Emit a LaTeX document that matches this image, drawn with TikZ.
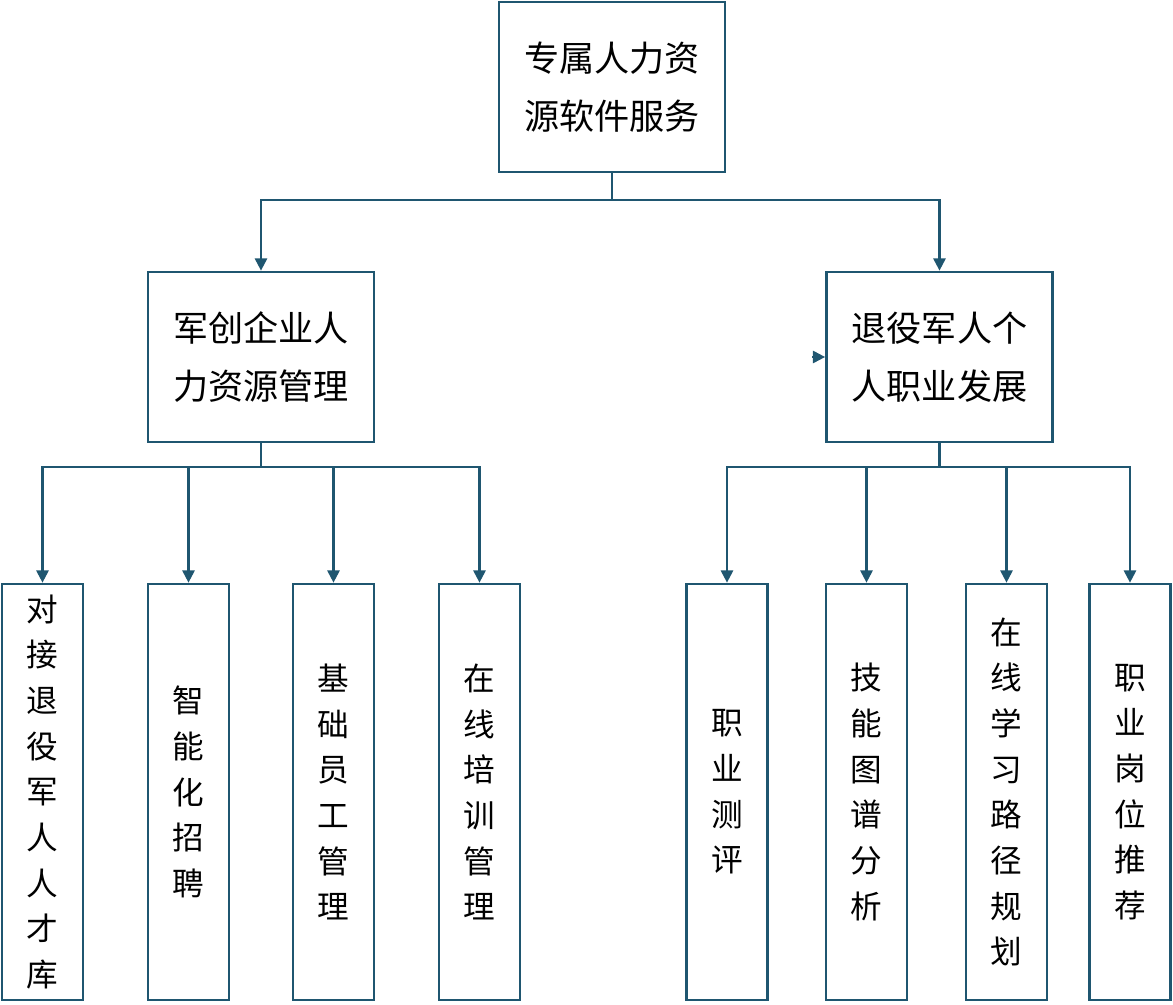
\documentclass[tikz,border=0pt]{standalone}
\usepackage{fontspec}
\setmainfont{Noto Sans CJK SC}
\usetikzlibrary{positioning, arrows.meta}
\definecolor{boxc}{HTML}{1F5670}
\tikzset{box/.style={draw=boxc,line width=1.6pt,align=center,inner sep=0pt},
         root/.style={box,minimum width=4.52cm,minimum height=3.4cm,font=\fontsize{20}{33}\selectfont},
         mid/.style={box,minimum width=4.52cm,minimum height=3.4cm,font=\fontsize{20}{33}\selectfont},
         leaf/.style={box,minimum width=1.62cm,minimum height=8.32cm,font=\fontsize{18}{26}\selectfont},
         link/.style={draw=boxc,line width=1.2pt,-{Triangle[length=7pt,width=7pt]}},
        }
\begin{document}
\begin{tikzpicture}[x=0.02cm,y=-0.02cm]
        \useasboundingbox (0,0) rectangle (1173,1004);
        \node[root](top)at(612,87){专属人力资\\源软件服务};
        \node[mid](lm)at(261,357){军创企业人\\力资源管理};
        \node[mid](rm)at(939.5,357){退役军人个\\人职业发展};

        \node[leaf](l1)at(42.5,792){对\\接\\退\\役\\军\\人\\人\\才\\库};
        \node[leaf](l2)at(188.5,792){智\\能\\化\\招\\聘};
        \node[leaf](l3)at(333.5,792){基\\础\\员\\工\\管\\理};
        \node[leaf](l4)at(479.5,792){在\\线\\培\\训\\管\\理};
        \node[leaf](r1)at(727,792){职\\业\\测\\评};
        \node[leaf](r2)at(866.5,792){技\\能\\图\\谱\\分\\析};
        \node[leaf](r3)at(1006.5,792){在\\线\\学\\习\\路\\径\\规\\划};
        \node[leaf](r4)at(1130,792){职\\业\\岗\\位\\推\\荐};

        \draw[link](top.south)|-(261,200)--(lm.north);
        \draw[link](top.south)|-(939.5,200)--(rm.north);
        \foreach \n in {l1,l2,l3,l4}
          \draw[link](lm.south)|-(\n.north|-0,467)--(\n.north);
        \foreach \n in {r1,r2,r3,r4}
          \draw[link](rm.south)|-(\n.north|-0,467)--(\n.north);

        \coordinate(stub)at(812,357);
        \draw[link](stub)--(rm.west);
    \end{tikzpicture}
\end{document}
